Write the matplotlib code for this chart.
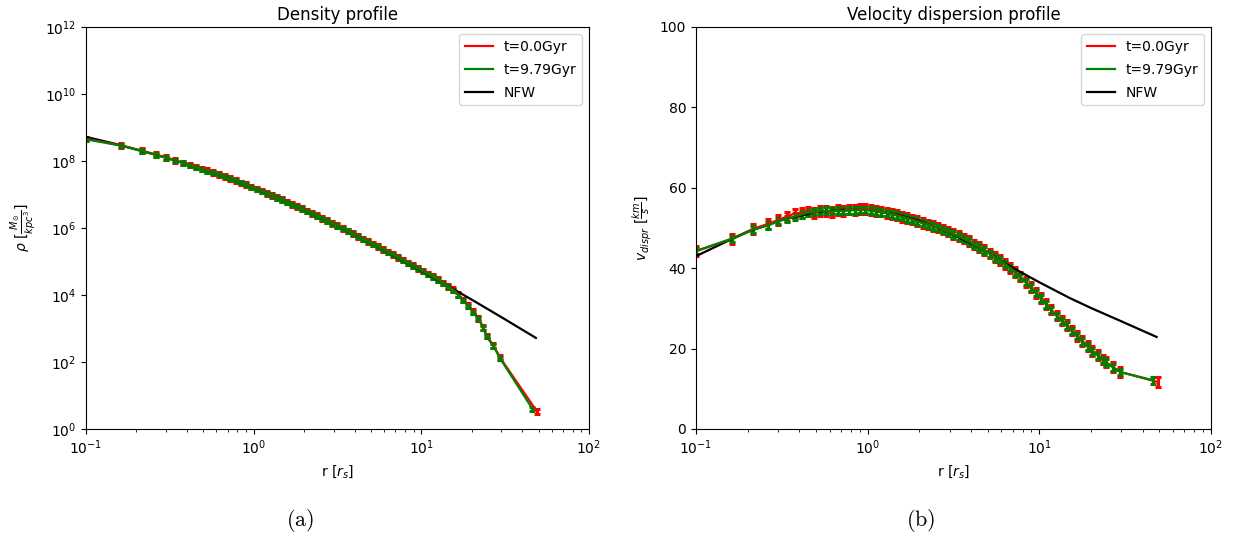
import matplotlib
matplotlib.use("Agg")
import matplotlib.pyplot as plt
from matplotlib.lines import Line2D
from matplotlib.ticker import LogLocator, NullFormatter, NullLocator
import numpy as np

plt.rcParams["mathtext.fontset"] = "dejavusans"

# Radial bins in units of the scale radius
r_t0 = [0.10, 0.161, 0.215, 0.262, 0.302, 0.341, 0.378, 0.415, 0.45, 0.49,
        0.53, 0.57, 0.62, 0.67, 0.72, 0.78, 0.84, 0.90, 0.97, 1.04,
        1.12, 1.20, 1.29, 1.38, 1.48, 1.59, 1.70, 1.82, 1.95, 2.09,
        2.24, 2.40, 2.57, 2.75, 2.95, 3.16, 3.39, 3.63, 3.89, 4.17,
        4.47, 4.79, 5.13, 5.50, 5.89, 6.31, 6.76, 7.24, 7.76, 8.32,
        8.91, 9.55, 10.2, 11.0, 11.7, 12.6, 13.5, 14.5, 15.5, 16.6,
        17.8, 19.1, 20.4, 21.9, 23.4, 24.5, 26.9, 29.5, 49.0]
r_t979 = [0.10, 0.161, 0.215, 0.262, 0.302, 0.341, 0.378, 0.415, 0.45, 0.49,
          0.53, 0.57, 0.62, 0.67, 0.72, 0.78, 0.84, 0.90, 0.97, 1.04,
          1.12, 1.20, 1.29, 1.38, 1.48, 1.59, 1.70, 1.82, 1.95, 2.09,
          2.24, 2.40, 2.57, 2.75, 2.95, 3.16, 3.39, 3.63, 3.89, 4.17,
          4.47, 4.79, 5.13, 5.50, 5.89, 6.31, 6.76, 7.24, 7.76, 8.32,
          8.91, 9.55, 10.2, 11.0, 11.7, 12.6, 13.5, 14.5, 15.5, 16.6,
          17.8, 19.1, 20.4, 21.9, 23.4, 24.5, 26.9, 29.5, 46.0]

# log10 density [Msun / kpc^3]
logrho_t0 = [8.66, 8.47, 8.31, 8.19, 8.10, 8.02, 7.95, 7.89, 7.83, 7.77,
             7.72, 7.66, 7.60, 7.54, 7.48, 7.42, 7.35, 7.30, 7.23, 7.17,
             7.11, 7.04, 6.98, 6.91, 6.85, 6.78, 6.71, 6.65, 6.58, 6.51,
             6.44, 6.37, 6.29, 6.22, 6.15, 6.07, 5.99, 5.92, 5.84, 5.76,
             5.68, 5.61, 5.53, 5.45, 5.37, 5.29, 5.21, 5.13, 5.05, 4.96,
             4.88, 4.80, 4.72, 4.63, 4.55, 4.46, 4.36, 4.26, 4.16, 4.02,
             3.86, 3.69, 3.51, 3.31, 3.04, 2.78, 2.50, 2.13, 0.52]
logrho_t979 = [8.65, 8.46, 8.30, 8.18, 8.09, 8.01, 7.94, 7.88, 7.82, 7.76,
               7.70, 7.65, 7.59, 7.53, 7.47, 7.41, 7.35, 7.29, 7.22, 7.16,
               7.10, 7.03, 6.97, 6.90, 6.84, 6.77, 6.70, 6.64, 6.57, 6.50,
               6.43, 6.36, 6.29, 6.21, 6.14, 6.06, 5.99, 5.91, 5.83, 5.75,
               5.67, 5.60, 5.52, 5.44, 5.36, 5.28, 5.20, 5.12, 5.04, 4.95,
               4.87, 4.79, 4.71, 4.62, 4.54, 4.45, 4.35, 4.25, 4.14, 4.00,
               3.84, 3.67, 3.49, 3.29, 3.02, 2.76, 2.48, 2.11, 0.60]

# Velocity dispersion [km/s]
v_t0 = [44.2, 47.3, 49.8, 51.0, 52.0, 52.9, 53.6, 53.8, 54.1, 53.7,
        54.3, 54.2, 53.9, 54.4, 54.3, 54.6, 54.5, 54.7, 54.8, 54.5,
        54.2, 54.1, 53.8, 53.5, 53.2, 52.8, 52.5, 52.1, 51.7, 51.3,
        50.9, 50.5, 50.1, 49.6, 49.1, 48.5, 48.0, 47.4, 46.7, 45.9,
        45.2, 44.5, 43.7, 42.8, 42.1, 41.1, 40.1, 39.0, 37.9, 36.6,
        35.3, 33.9, 32.6, 31.1, 29.7, 28.2, 27.0, 25.8, 24.5, 23.2,
        21.9, 20.6, 19.4, 18.4, 17.3, 16.6, 15.4, 14.2, 11.7]
v_t979 = [44.3, 47.3, 49.6, 50.6, 51.7, 52.3, 52.9, 53.4, 53.8, 54.0,
          54.2, 54.3, 54.2, 54.3, 54.2, 54.4, 54.4, 54.5, 54.5, 54.3,
          54.1, 53.9, 53.7, 53.4, 53.1, 52.7, 52.4, 52.0, 51.6, 51.2,
          50.8, 50.4, 50.0, 49.5, 49.0, 48.4, 47.9, 47.3, 46.6, 45.8,
          45.1, 44.4, 43.6, 42.7, 42.0, 41.0, 40.0, 38.9, 37.8, 36.5,
          35.2, 33.8, 32.5, 31.0, 29.6, 28.1, 26.9, 25.7, 24.4, 23.1,
          21.8, 20.5, 19.3, 18.3, 17.2, 16.5, 15.3, 14.2, 12.1]

# NFW reference profiles
r_nfw = [0.1, 0.15, 0.2, 0.3, 0.5, 0.7, 1.0, 1.5, 2.0, 3.0, 5.0, 7.0,
         10.0, 15.0, 20.0, 30.0, 48.2]
logrho_nfw = [8.72, 8.51, 8.34, 8.10, 7.75, 7.50, 7.20, 6.83, 6.55, 6.12,
              5.55, 5.15, 4.72, 4.22, 3.86, 3.34, 2.72]
v_nfw = [43.0, 46.6, 49.0, 51.8, 53.9, 54.5, 54.5, 53.3, 51.8, 48.8,
         44.0, 40.1, 36.5, 32.6, 30.1, 26.8, 22.9]

labels = ["t=0.0Gyr", "t=9.79Gyr", "NFW"]
rho_rel_err_t0 = 0.16
rho_rel_err_t979 = 0.11
v_err_t0 = 1.2
v_err_t979 = 0.8

fig = plt.figure(figsize=(12.37, 5.42), dpi=100)
ax1 = fig.add_axes([86 / 1237, 1 - 429 / 542, 503 / 1237, 402 / 542])
ax2 = fig.add_axes([696 / 1237, 1 - 429 / 542, 515 / 1237, 402 / 542])

rho_t0 = 10 ** np.array(logrho_t0)
rho_t979 = 10 ** np.array(logrho_t979)
rho_nfw = 10 ** np.array(logrho_nfw)

eb = dict(lw=1.6, elinewidth=2.2, capsize=2.2, capthick=2.2)
ax1.errorbar(r_t0, rho_t0, yerr=rho_t0 * rho_rel_err_t0, color="red", **eb)
ax1.errorbar(r_t979, rho_t979, yerr=rho_t979 * rho_rel_err_t979, color="green", **eb)
ax1.plot(r_nfw, rho_nfw, color="black", lw=1.6)
ax1.set_xscale("log")
ax1.set_yscale("log")
ax1.set_xlim(0.1, 100)
ax1.set_ylim(1, 1e12)
ax1.set_yticks([10.0 ** k for k in range(0, 13, 2)])
ax1.yaxis.set_minor_locator(NullLocator())
ax1.set_title("Density profile", fontsize=12, pad=5)
ax1.set_xlabel(r"r $[r_s]$")
ax1.set_ylabel(r"$\rho$ $[\frac{M_{\odot}}{kpc^3}]$")

ax2.errorbar(r_t0, v_t0, yerr=v_err_t0, color="red", **eb)
ax2.errorbar(r_t979, v_t979, yerr=v_err_t979, color="green", **eb)
ax2.plot(r_nfw, v_nfw, color="black", lw=1.6)
ax2.set_xscale("log")
ax2.set_xlim(0.1, 100)
ax2.set_ylim(0, 100)
ax2.set_yticks([0, 20, 40, 60, 80, 100])
ax2.set_title("Velocity dispersion profile", fontsize=12, pad=5)
ax2.set_xlabel(r"r $[r_s]$")
ax2.set_ylabel(r"$v_{dispr}$ $[\frac{km}{s}]$")

handles = [Line2D([], [], color=c, lw=1.6) for c in ("red", "green", "black")]
for ax in (ax1, ax2):
    ax.xaxis.set_major_locator(LogLocator(base=10, numticks=10))
    ax.xaxis.set_minor_locator(LogLocator(base=10, subs=np.arange(2, 10), numticks=10))
    ax.xaxis.set_minor_formatter(NullFormatter())
    ax.legend(handles, labels, loc="upper right", fontsize=10, labelspacing=0.65)

# Panel captions in a Computer Modern face
cap = dict(ha="center", va="center", fontsize=16, math_fontfamily="cm")
fig.text(300 / 1237, 1 - 521 / 542, r"$\mathrm{(a)}$", **cap)
fig.text(921 / 1237, 1 - 521 / 542, r"$\mathrm{(b)}$", **cap)

fig.savefig("out.png", dpi=100)
